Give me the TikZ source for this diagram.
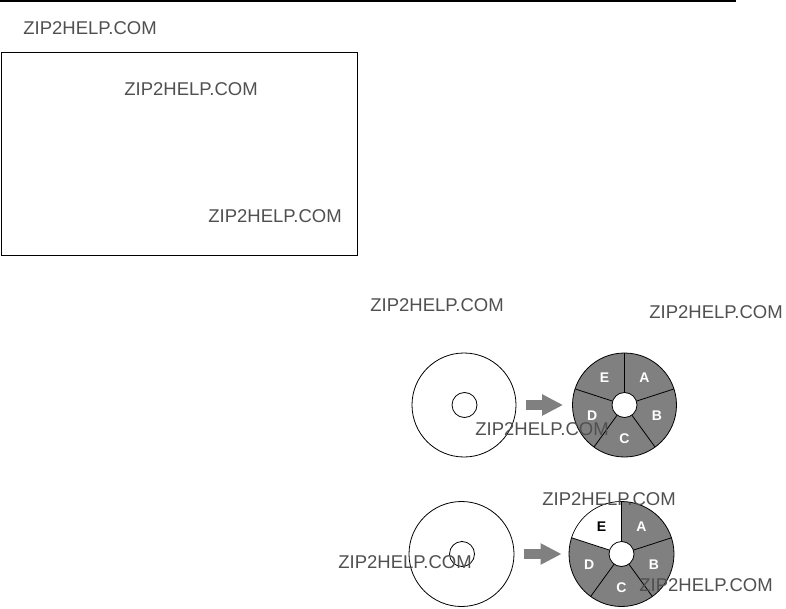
\documentclass[tikz,border=0pt]{standalone}
\usepackage{fontspec}
\setmainfont{Liberation Sans}
\usetikzlibrary{arrows.meta}
\definecolor{markgray}{HTML}{505050}
\definecolor{piegray}{HTML}{808080}
\begin{document}
\begin{tikzpicture}[x=1pt, y=1pt,
    wmark/.style={text=markgray, font=\fontsize{18.5}{18.5}\selectfont, inner sep=0},
    disc/.style={draw, circle, line width=0.8pt, inner sep=0},
    blockarrow/.style={piegray, line width=10pt, -{Triangle[width=20pt, length=21pt]}},
    slicelbl/.style={text=white, font=\bfseries\fontsize{14}{14}\selectfont, inner sep=0}]
    \useasboundingbox (0,0) rectangle (786,608);

    % Rule and frame
    \draw[line width=2pt] (0,607) -- (736,607);
    \draw[line width=0.8pt] (1,556) rectangle (357,353);

    % Blank discs
    \node[disc, minimum size=104pt] (discA) at (464,203) {};
    \node[disc, minimum size=25pt] (holeA) at (464.5,203) {};
    \node[disc, minimum size=105pt] (discB) at (461.5,54) {};
    \node[disc, minimum size=25pt] (holeB) at (462,54) {};

    % Partitioned discs
    \node[disc, fill=piegray, minimum size=104pt] (pieA) at (624.5,203) {};
    \node[disc, fill=piegray, minimum size=105pt] (pieB) at (621.5,54) {};
    \fill[white] (pieB.center) -- ++(90:52) arc (90:162:52) -- cycle;
    \foreach \a in {90,18,-54,-126,162} {
        \draw[line width=0.8pt] (pieA.center) -- ++(\a:52);
        \draw[line width=0.8pt] (pieB.center) -- ++(\a:52.5);
    }
    \node[disc, fill=white, minimum size=25pt] (pholeA) at (pieA.center) {};
    \node[disc, fill=white, minimum size=25pt] (pholeB) at (pieB.center) {};

    % Slice labels
    \foreach \t/\a in {A/54, B/-18, C/-90, D/-162, E/126}
        \node[slicelbl] (lblA\t) at ([shift={(\a:34)}]pieA.center) {\t};
    \foreach \t/\a in {A/54, B/-18, C/-90, D/-162}
        \node[slicelbl] (lblB\t) at ([shift={(\a:34)}]pieB.center) {\t};
    \node[slicelbl, text=black] (lblBE) at ([shift={(126:34)}]pieB.center) {E};

    % Arrows
    \draw[blockarrow] ([xshift=10pt]discA.east) -- ([xshift=-9pt]pieA.west);
    \draw[blockarrow] ([xshift=10pt]discB.east) -- ([xshift=-7pt]pieB.west);

    % Watermarks
    \node[wmark] (wm1) at (90,580) {ZIP2HELP.COM};
    \node[wmark] (wm2) at (191,519) {ZIP2HELP.COM};
    \node[wmark] (wm3) at (275,392) {ZIP2HELP.COM};
    \node[wmark] (wm4) at (437,303) {ZIP2HELP.COM};
    \node[wmark] (wm5) at (716,296) {ZIP2HELP.COM};
    \node[wmark] (wm6) at (542,179) {ZIP2HELP.COM};
    \node[wmark] (wm7) at (609,109) {ZIP2HELP.COM};
    \node[wmark] (wm8) at (405,46) {ZIP2HELP.COM};
    \node[wmark] (wm9) at (706,23) {ZIP2HELP.COM};
\end{tikzpicture}
\end{document}
